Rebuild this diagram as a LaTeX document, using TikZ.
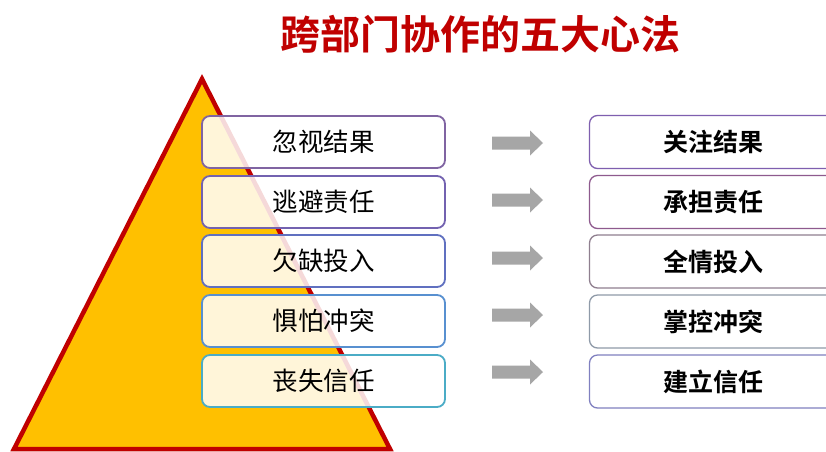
\documentclass[tikz,border=0pt]{standalone}
\usepackage{fontspec}
\newfontfamily\cjkbold{Noto Sans CJK SC Bold}
\newfontfamily\cjkserif{Noto Sans CJK SC}
\definecolor{titlered}{HTML}{C00000}
\definecolor{pyrfill}{HTML}{FFC000}
\definecolor{pyredge}{HTML}{C00000}
\definecolor{arrowgrey}{HTML}{A6A6A6}
\definecolor{lb1}{HTML}{8064A2}
\definecolor{lb2}{HTML}{7362B0}
\definecolor{lb3}{HTML}{6070C0}
\definecolor{lb4}{HTML}{5890D0}
\definecolor{lb5}{HTML}{4BACC6}
\definecolor{rb1}{HTML}{7F5FAF}
\definecolor{rb2}{HTML}{8E5A8E}
\definecolor{rb3}{HTML}{8F7F8F}
\definecolor{rb4}{HTML}{8F9AA8}
\definecolor{rb5}{HTML}{8080C0}
\tikzset{
  leftbox/.style={draw, line width=1.8pt, rounded corners=8pt, fill=white, fill opacity=0.85, text opacity=1,
    minimum width=243pt, minimum height=52pt, inner sep=0pt, font=\cjkserif\fontsize{25.5}{25.5}\selectfont},
  rightbox/.style={draw, line width=1.3pt, rounded corners=8pt, fill=white,
    minimum width=247pt, minimum height=53pt, inner sep=0pt, font=\cjkbold\fontsize{25}{25}\selectfont},
  grayarrow/.style={fill=arrowgrey, draw=none},
}
\newcommand{\blockarrow}[2]{%
  \coordinate (#1) at (492,#2);
  \fill[grayarrow] (492,#2-6.5) -- ++(38,0) -- ++(0,-6) -- ++(13,12.5) -- ++(-13,12.5) -- ++(0,-6) -- ++(-38,0) -- cycle;
}
\begin{document}
\begin{tikzpicture}[x=1pt,y=-1pt]
\useasboundingbox (0,0) rectangle (826,451);
\clip (0,0) rectangle (826,451);
\fill[white] (0,0) rectangle (826,451);
% title
\node[font=\cjkbold\fontsize{40}{40}\selectfont, text=titlered] (title) at (480,34) {跨部门协作的五大心法};
% pyramid
\draw[fill=pyrfill, draw=pyredge, line width=4.5pt, line join=miter] (202,79) -- (390,449) -- (14,449) -- cycle;
% left boxes
\node[leftbox, draw=lb1] (l1) at (323.5,142) {忽视结果};
\node[leftbox, draw=lb2] (l2) at (323.5,202) {逃避责任};
\node[leftbox, draw=lb3] (l3) at (323.5,261) {欠缺投入};
\node[leftbox, draw=lb4] (l4) at (323.5,321) {惧怕冲突};
\node[leftbox, draw=lb5] (l5) at (323.5,381) {丧失信任};
% arrows
\blockarrow{a1}{143}
\blockarrow{a2}{200}
\blockarrow{a3}{258}
\blockarrow{a4}{315}
\blockarrow{a5}{372}
% right boxes
\node[rightbox, draw=rb1] (r1) at (713,142) {关注结果};
\node[rightbox, draw=rb2] (r2) at (713,202) {承担责任};
\node[rightbox, draw=rb3] (r3) at (713,261.5) {全情投入};
\node[rightbox, draw=rb4] (r4) at (713,321.5) {掌控冲突};
\node[rightbox, draw=rb5] (r5) at (713,381.5) {建立信任};
\end{tikzpicture}
\end{document}
